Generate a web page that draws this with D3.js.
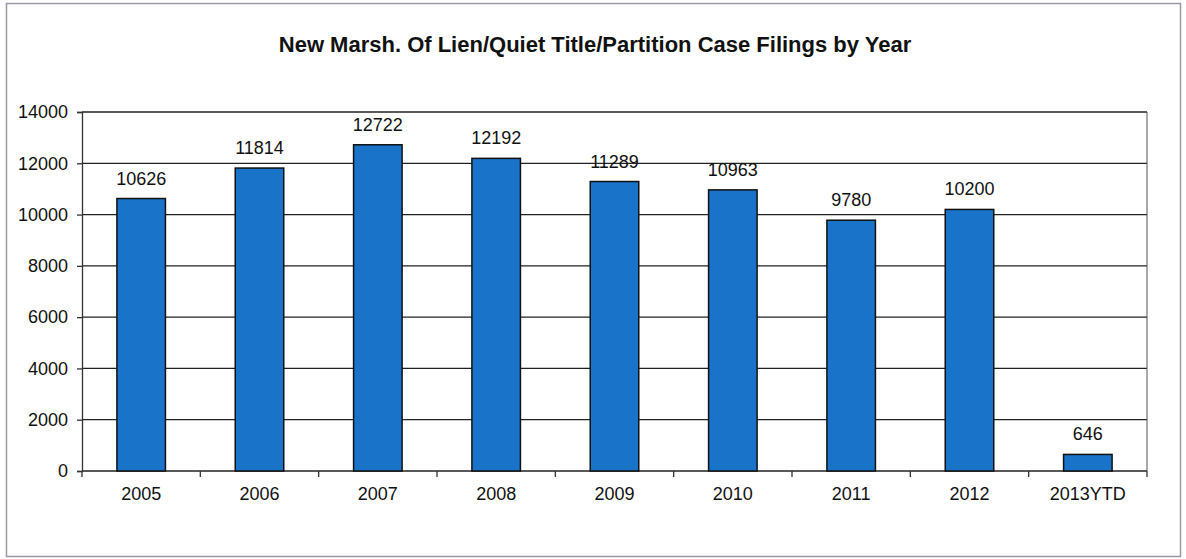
<!DOCTYPE html>
<html>
<head>
<meta charset="utf-8">
<script src="https://cdn.jsdelivr.net/npm/d3@7/dist/d3.min.js"></script>
<style>
  html, body { margin: 0; padding: 0; background: #fff; }
  svg { display: block; font-family: "Liberation Sans", Arial, sans-serif; }
</style>
</head>
<body>
<svg id="chart" width="1186" height="559"></svg>
<script>
// Case filings per year
const years = ["2005", "2006", "2007", "2008", "2009", "2010", "2011", "2012", "2013YTD"];
const filings = [10626, 11814, 12722, 12192, 11289, 10963, 9780, 10200, 646];
const yTicks = [0, 2000, 4000, 6000, 8000, 10000, 12000, 14000];
const title = "New Marsh. Of Lien/Quiet Title/Partition Case Filings by Year";

const svg = d3.select("#chart");
const W = 1186, H = 559;
const margin = { left: 82, right: 39, top: 112, bottom: 88 };
const plotW = W - margin.left - margin.right;
const plotH = H - margin.top - margin.bottom;
const labelFont = "'Liberation Sans', Arial, sans-serif";

// outer frame
svg.append("rect")
  .attr("x", 6.5).attr("y", 3.5)
  .attr("width", 1174).attr("height", 553)
  .attr("fill", "#fff").attr("stroke", "#9a9aa2").attr("stroke-width", 1.5);

svg.append("text")
  .attr("x", 595).attr("y", 52)
  .attr("text-anchor", "middle")
  .attr("font-size", 22).attr("font-weight", "bold").attr("fill", "#111")
  .text(title);

const g = svg.append("g").attr("transform", `translate(${margin.left},${margin.top})`);

const x = d3.scaleBand().domain(years).range([0, plotW]).paddingInner(0.59).paddingOuter(0.295);
const y = d3.scaleLinear().domain([0, 14000]).range([plotH, 0]);

// horizontal gridlines
g.append("g").selectAll("line").data(yTicks).join("line")
  .attr("x1", 0).attr("x2", plotW)
  .attr("y1", d => y(d)).attr("y2", d => y(d))
  .attr("stroke", "#222").attr("stroke-width", 1.3);

// right plot border
g.append("line")
  .attr("x1", plotW).attr("x2", plotW).attr("y1", 0).attr("y2", plotH)
  .attr("stroke", "#555").attr("stroke-width", 1);

// y axis
const yAxis = g.append("g")
  .call(d3.axisLeft(y).tickValues(yTicks).tickSize(5).tickPadding(9).tickFormat(d3.format("d")));
yAxis.select(".domain").attr("stroke", "#333").attr("stroke-width", 1.3);
yAxis.selectAll(".tick line").attr("stroke", "#333").attr("stroke-width", 1.3);
yAxis.selectAll("text").attr("font-size", 18).attr("fill", "#111")
  .attr("font-family", labelFont);

// x axis with ticks at category boundaries
const xAxis = g.append("g").attr("transform", `translate(0,${plotH})`)
  .call(d3.axisBottom(x).tickSize(0).tickPadding(16));
xAxis.select(".domain").remove();
xAxis.selectAll("text").attr("font-size", 18).attr("fill", "#111")
  .attr("font-family", labelFont);
const step = x.step();
g.append("g").selectAll("line").data(d3.range(years.length + 1)).join("line")
  .attr("x1", i => i * step).attr("x2", i => i * step)
  .attr("y1", plotH).attr("y2", plotH + 6)
  .attr("stroke", "#333").attr("stroke-width", 1.3);

// bars
g.append("g").selectAll("rect").data(filings).join("rect")
  .attr("x", (d, i) => x(years[i]))
  .attr("y", d => y(d))
  .attr("width", x.bandwidth())
  .attr("height", d => plotH - y(d))
  .attr("fill", "#1873c9")
  .attr("stroke", "#111").attr("stroke-width", 1.5);

// value labels
g.append("g").selectAll("text").data(filings).join("text")
  .attr("x", (d, i) => x(years[i]) + x.bandwidth() / 2)
  .attr("y", d => y(d) - 14)
  .attr("text-anchor", "middle")
  .attr("font-size", 18).attr("fill", "#111")
  .text(d => d);
</script>
</body>
</html>
